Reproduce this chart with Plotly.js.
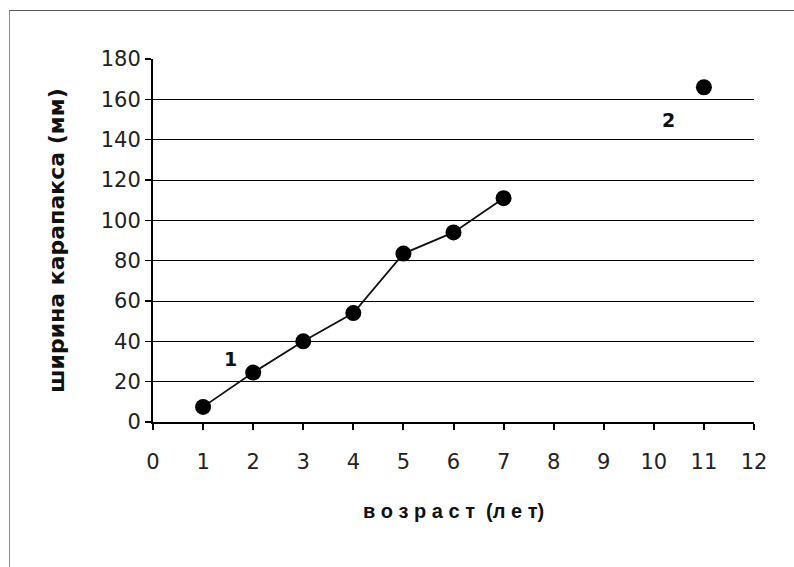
<!DOCTYPE html>
<html><head><meta charset="utf-8">
<script src="https://cdn.plot.ly/plotly-3.0.1.min.js"></script>
<style>
html,body{margin:0;padding:0;background:#fff;}
#frame{position:absolute;left:9px;top:10px;width:790px;height:560px;border-top:1px solid #555;border-left:1px solid #888;box-sizing:border-box;pointer-events:none;z-index:5;}
#chart{width:794px;height:567px;}
</style></head>
<body>
<div id="frame"></div>
<div id="chart"></div>
<script>
var ageLine = [1, 2, 3, 4, 5, 6, 7];
var widthLine = [7.5, 24.5, 40, 54, 83.5, 94, 111];
var ageSingle = [11];
var widthSingle = [166];
var groupLabels = ["1", "2"];
var labelX = [1.55, 10.3];
var labelY = [31, 150];
var xTicks = [0,1,2,3,4,5,6,7,8,9,10,11,12];
var yTicks = [0,20,40,60,80,100,120,140,160,180];

var tickFont = {family: 'DejaVu Sans, sans-serif', size: 21, color: '#222'};

var traces = [
  {x: ageLine, y: widthLine, mode: 'lines+markers', type: 'scatter',
   line: {color: '#111', width: 1.8}, marker: {color: '#000', size: 16}, cliponaxis: false},
  {x: ageSingle, y: widthSingle, mode: 'markers', type: 'scatter',
   marker: {color: '#000', size: 16}, cliponaxis: false}
];

var annotations = groupLabels.map(function(t, i){
  return {x: labelX[i], y: labelY[i], xref: 'x', yref: 'y', text: t, showarrow: false,
          font: {family: 'DejaVu Sans, sans-serif', size: 19, color: '#111', weight: 'bold'}};
});

var layout = {
  width: 794, height: 567,
  margin: {l: 153, r: 40, t: 59, b: 145},
  paper_bgcolor: '#fff', plot_bgcolor: '#fff',
  showlegend: false,
  font: tickFont,
  xaxis: {
    range: [0, 12], tickvals: xTicks, ticktext: xTicks.map(String),
    tickfont: tickFont,
    showgrid: false, zeroline: false, showline: true, linecolor: '#000', linewidth: 2,
    ticks: 'outside', ticklen: 6, tickwidth: 2, tickcolor: '#000',
    ticklabelstandoff: 14,
    title: {text: 'в о з р а с т  (л е т)', standoff: 31,
            font: {family: 'Liberation Sans, Arial, sans-serif', size: 20, color: '#111', weight: 'bold'}},
    automargin: false, fixedrange: true
  },
  yaxis: {
    range: [0, 180], tickvals: yTicks, ticktext: yTicks.map(String),
    tickfont: tickFont,
    showgrid: true, gridcolor: '#000', gridwidth: 1,
    zeroline: false, showline: true, linecolor: '#000', linewidth: 2,
    ticks: 'outside', ticklen: 6, tickwidth: 1.5, tickcolor: '#000',
    title: {text: 'ширина карапакса (мм)', standoff: 30,
            font: {family: 'DejaVu Sans, sans-serif', size: 22, color: '#111', weight: 'bold'}},
    automargin: false, fixedrange: true
  },
  annotations: annotations
};

Plotly.newPlot('chart', traces, layout, {displayModeBar: false, staticPlot: true});
</script>
</body></html>
